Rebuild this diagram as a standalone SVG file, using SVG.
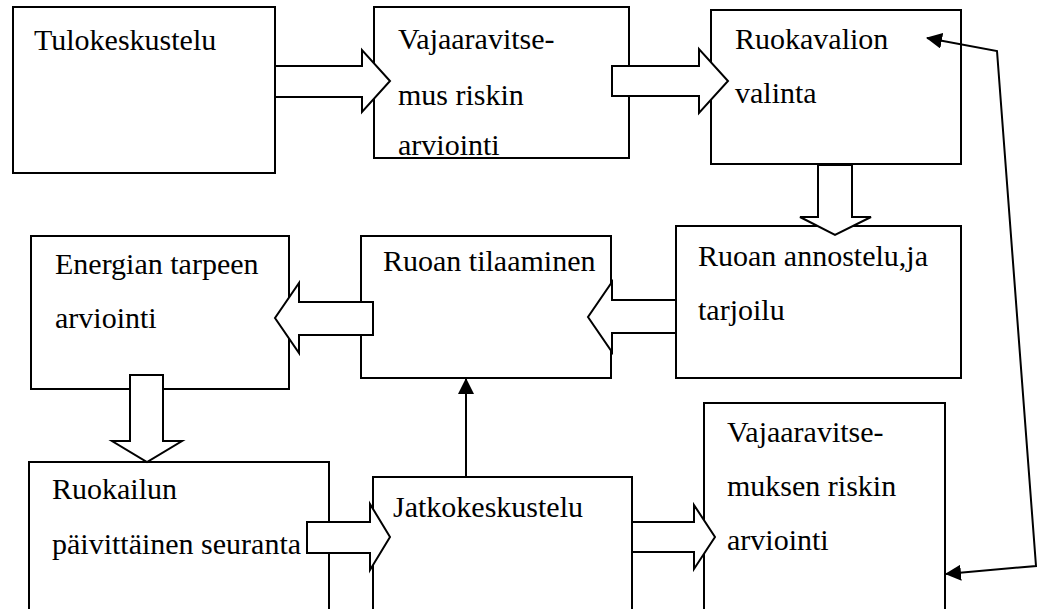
<svg xmlns="http://www.w3.org/2000/svg" width="1038" height="609" viewBox="0 0 1038 609">
  <style>
    .box { fill: #fff; stroke: #000; stroke-width: 2; }
    .blk { fill: #fff; stroke: #000; stroke-width: 2; stroke-linejoin: miter; }
    .thin { fill: none; stroke: #000; stroke-width: 2; }
  </style>
  <defs>
    <marker id="head" viewBox="0 0 16 16" refX="15" refY="8" markerWidth="16" markerHeight="16" markerUnits="userSpaceOnUse" orient="auto-start-reverse">
      <path d="M0,0 L16,8 L0,16 Z" fill="#000"/>
    </marker>
  </defs>
  <rect width="1038" height="609" fill="#fff"/>

  <g font-family="Liberation Serif, Tinos, Times New Roman, Times, serif" font-size="30" fill="#000">
    <g id="tulokeskustelu">
      <rect class="box" x="13" y="7" width="262" height="166"/>
      <text x="34" y="50">Tulokeskustelu</text>
    </g>
    <g id="riski-arvio-1">
      <rect class="box" x="374" y="7" width="255" height="151"/>
      <text x="398" y="49">Vajaaravitse-</text>
      <text x="398" y="105">mus riskin</text>
      <text x="398" y="155">arviointi</text>
    </g>
    <g id="ruokavalio">
      <rect class="box" x="711" y="10" width="250" height="154"/>
      <text x="735" y="49">Ruokavalion</text>
      <text x="735" y="103">valinta</text>
    </g>
    <g id="annostelu">
      <rect class="box" x="676" y="226" width="285" height="152"/>
      <text x="698" y="266">Ruoan annostelu,ja</text>
      <text x="698" y="320">tarjoilu</text>
    </g>
    <g id="tilaaminen">
      <rect class="box" x="361" y="236" width="250" height="142"/>
      <text x="383" y="271">Ruoan tilaaminen</text>
    </g>
    <g id="energia">
      <rect class="box" x="31" y="236" width="258" height="153"/>
      <text x="55" y="274">Energian tarpeen</text>
      <text x="55" y="328">arviointi</text>
    </g>
    <g id="seuranta">
      <rect class="box" x="29" y="462" width="300" height="160"/>
      <text x="52" y="499">Ruokailun</text>
      <text x="52" y="554">päivittäinen seuranta</text>
    </g>
    <g id="jatkokeskustelu">
      <rect class="box" x="373" y="477" width="259" height="145"/>
      <text x="393" y="517">Jatkokeskustelu</text>
    </g>
    <g id="riski-arvio-2">
      <rect class="box" x="704" y="403" width="241" height="219"/>
      <text x="727" y="442">Vajaaravitse-</text>
      <text x="727" y="496">muksen riskin</text>
      <text x="727" y="550">arviointi</text>
    </g>
  </g>

  <g id="connectors">
    <!-- block arrows -->
    <polygon class="blk" points="275,66 362,66 362,50 390,81 362,112 362,97 275,97"/>
    <polygon class="blk" points="612,66 699,66 699,49 728,81 699,113 699,96 612,96"/>
    <polygon class="blk" points="818,165 852,165 852,217 871,217 835,235 800,217 818,217"/>
    <polygon class="blk" points="676,300 612,300 612,282 588,317 612,352 612,333 676,333"/>
    <polygon class="blk" points="373,302 299,302 299,283 275,318 299,353 299,335 373,335"/>
    <polygon class="blk" points="130,375 163,375 163,441 182,441 147,462 112,441 130,441"/>
    <polygon class="blk" points="307,522 370,522 370,504 390,537 370,570 370,553 307,553"/>
    <polygon class="blk" points="632,522 694,522 694,505 715,537 694,569 694,552 632,552"/>
    <!-- thin arrows -->
    <line class="thin" x1="466" y1="477" x2="466" y2="379" marker-end="url(#head)"/>
    <polyline class="thin" points="946,574 1036,566 997,51 927,38" marker-start="url(#head)" marker-end="url(#head)"/>
  </g>
</svg>
